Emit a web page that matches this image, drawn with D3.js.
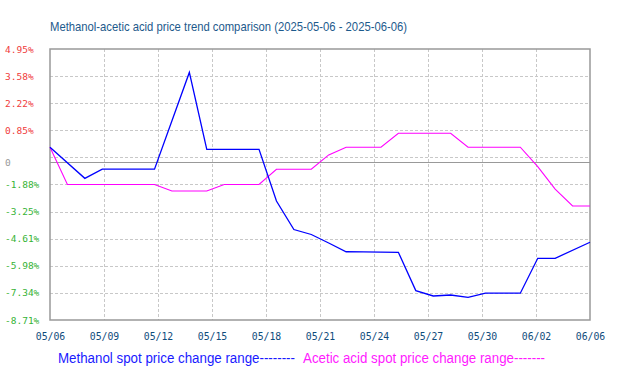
<!DOCTYPE html>
<html>
<head>
<meta charset="utf-8">
<script src="https://cdn.jsdelivr.net/npm/d3@7"></script>
<style>
  body { margin: 0; background: #fff; }
  svg { display: block; }
</style>
</head>
<body>
<div id="chart"></div>
<script>
// day offsets from 2025-05-06, one entry per point actually drawn
var methanolDays = [0, 2, 3, 4, 5, 6, 8, 9, 10, 11, 12, 13, 14, 15, 16, 17, 18, 19, 20, 21, 22, 23, 24, 25, 26, 27, 28, 29, 31];
var methanolValues = [0, -1.57, -1.11, -1.11, -1.11, -1.11, 3.77, -0.11, -0.11, -0.11, -0.11, -2.71, -4.15, -4.40, -4.83, -5.27, -5.28, -5.29, -5.30, -7.23, -7.50, -7.45, -7.57, -7.36, -7.36, -7.36, -5.60, -5.60, -4.79];

var aceticDays = [0, 1, 6, 7, 9, 10, 12, 13, 15, 16, 17, 19, 20, 23, 24, 27, 28, 29, 30, 31];
var aceticValues = [0, -1.88, -1.88, -2.21, -2.21, -1.88, -1.88, -1.11, -1.11, -0.39, 0, 0, 0.70, 0.70, 0, 0, -0.98, -2.11, -2.96, -2.96];

var xTickLabels = ["05/06", "05/09", "05/12", "05/15", "05/18", "05/21", "05/24", "05/27", "05/30", "06/02", "06/06"];
var yTickValues = [4.95, 3.58, 2.22, 0.85, -0.51, -1.88, -3.25, -4.61, -5.98, -7.34, -8.71];
var zeroLineValue = -0.77; // where the chart draws its "0" line

var startDate = new Date(Date.UTC(2025, 4, 6));
var endDate = new Date(Date.UTC(2025, 5, 6));

function toDate(d) {
    return d3.utcDay.offset(startDate, d);
}

var W = 617, H = 380;
var margin = { top: 49, right: 27, bottom: 60, left: 50 };
var width = W - margin.left - margin.right,
    height = H - margin.top - margin.bottom;

var svg = d3.select("#chart").append("svg")
    .attr("width", W)
    .attr("height", H);

// the original font is a narrow one, so squeeze the text to its width
svg.append("text")
    .attr("x", 50)
    .attr("y", 31)
    .attr("font-family", "Liberation Sans, Arial, sans-serif")
    .attr("font-size", 13.5)
    .attr("fill", "#1d5a8c")
    .attr("textLength", 357)
    .attr("lengthAdjust", "spacingAndGlyphs")
    .text("Methanol-acetic acid price trend comparison (2025-05-06 - 2025-06-06)");

var g = svg.append("g")
    .attr("transform", "translate(" + margin.left + "," + margin.top + ")");

var x = d3.scaleUtc().domain([startDate, endDate]).range([0, width]);
var xLabels = d3.scalePoint().domain(xTickLabels).range([0, width]);
var y = d3.scaleLinear().domain([-8.71, 4.95]).range([height, 0]);

// grid
g.append("g")
    .selectAll("line")
    .data(xTickLabels.slice(1, -1))
    .enter()
    .append("line")
    .attr("x1", (d) => Math.round(xLabels(d)) + 0.5)
    .attr("x2", (d) => Math.round(xLabels(d)) + 0.5)
    .attr("y1", 0)
    .attr("y2", height)
    .attr("stroke", "#c8c8c8")
    .attr("stroke-dasharray", "3,2");

g.append("g")
    .selectAll("line")
    .data(yTickValues.slice(1, -1))
    .enter()
    .append("line")
    .attr("x1", 0)
    .attr("x2", width)
    .attr("y1", (d) => Math.round(y(d)) + 0.5)
    .attr("y2", (d) => Math.round(y(d)) + 0.5)
    .attr("stroke", "#c8c8c8")
    .attr("stroke-dasharray", "3,2");

// zero line
g.append("line")
    .attr("x1", 0)
    .attr("x2", width)
    .attr("y1", Math.round(y(zeroLineValue)) + 0.5)
    .attr("y2", Math.round(y(zeroLineValue)) + 0.5)
    .attr("stroke", "#999")
    .attr("stroke-width", 1.2);

// frame
g.append("rect")
    .attr("x", 0)
    .attr("y", 0)
    .attr("width", width)
    .attr("height", height)
    .attr("fill", "none")
    .attr("stroke", "#999")
    .attr("stroke-width", 1.5);

// axes, y labels are left aligned at the page edge
var yAxis = g.append("g")
    .call(d3.axisLeft(y)
        .tickValues(yTickValues)
        .tickSize(0)
        .tickFormat((d) => d.toFixed(2) + "%"));
yAxis.select(".domain").remove();
yAxis.selectAll("text")
    .attr("x", -45)
    .attr("text-anchor", "start")
    .attr("font-family", "DejaVu Sans Mono, monospace")
    .attr("font-size", 9.5)
    .attr("fill", (d) => d > 0 ? "#f03c3c" : "#36b336")
    .style("display", (d) => d === -0.51 ? "none" : null);

g.append("text")
    .attr("x", -45)
    .attr("y", y(zeroLineValue))
    .attr("dy", "0.32em")
    .attr("font-family", "DejaVu Sans Mono, monospace")
    .attr("font-size", 9.5)
    .attr("fill", "#999")
    .text("0");

var xAxis = g.append("g")
    .attr("transform", "translate(0," + height + ")")
    .call(d3.axisBottom(xLabels).tickSize(0).tickPadding(13));
xAxis.select(".domain").remove();
xAxis.selectAll("text")
    .attr("font-family", "DejaVu Sans Mono, monospace")
    .attr("font-size", 9.8)
    .attr("fill", "#0f4c7c");

// lines
var line = d3.line()
    .x((d) => x(toDate(d[0])))
    .y((d) => y(d[1]));

g.append("path")
    .datum(d3.zip(aceticDays, aceticValues))
    .attr("fill", "none")
    .attr("stroke", "#ff00ff")
    .attr("stroke-width", 1.1)
    .attr("d", line);

g.append("path")
    .datum(d3.zip(methanolDays, methanolValues))
    .attr("fill", "none")
    .attr("stroke", "#0000ff")
    .attr("stroke-width", 1.3)
    .attr("d", line);

// legend
svg.append("text")
    .attr("x", 58)
    .attr("y", 363)
    .attr("font-family", "Liberation Sans, Arial, sans-serif")
    .attr("font-size", 14)
    .attr("fill", "#1a1aff")
    .attr("textLength", 237)
    .attr("lengthAdjust", "spacingAndGlyphs")
    .text("Methanol spot price change range--------");

svg.append("text")
    .attr("x", 303)
    .attr("y", 363)
    .attr("font-family", "Liberation Sans, Arial, sans-serif")
    .attr("font-size", 14)
    .attr("fill", "#ff1aff")
    .attr("textLength", 242)
    .attr("lengthAdjust", "spacingAndGlyphs")
    .text("Acetic acid spot price change range-------");
</script>
</body>
</html>
